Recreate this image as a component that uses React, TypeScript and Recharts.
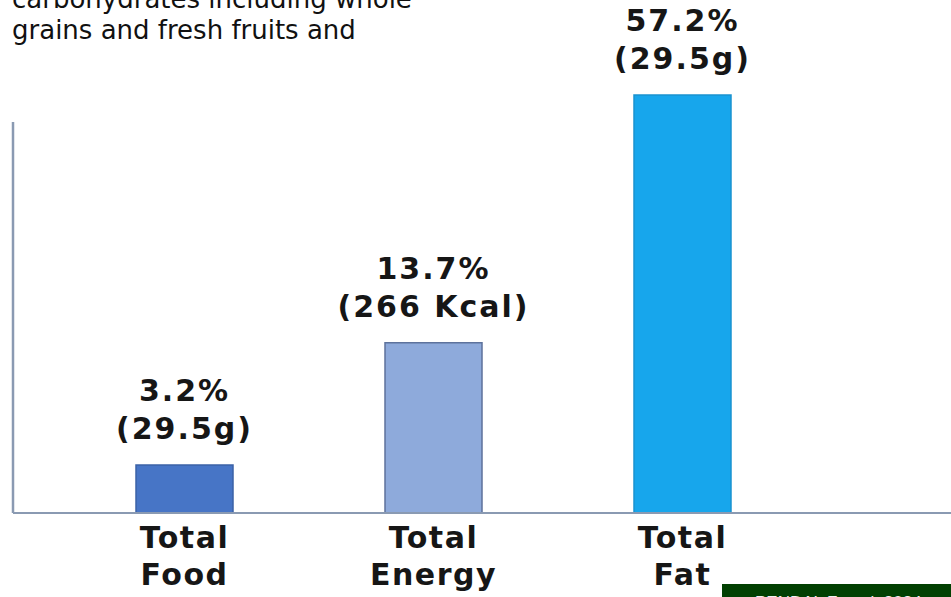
import React from "react";
import { BarChart, Bar, XAxis, YAxis, Cell, LabelList } from "recharts";

const categories = ["Total Food", "Total Energy", "Total Fat"];
// visual bar heights (relative units, tallest bar = 100)
const barHeights = [11.5, 40.7, 100];
const percentLabels = ["3.2%", "13.7%", "57.2%"];
const amountLabels = ["(29.5g)", "(266 Kcal)", "(29.5g)"];
const barColors = ["#4775c6", "#8eaadb", "#17a6ec"];
const barStrokes = ["#3b62a6", "#5d729c", "#1a92cf"];
const introLines = ["carbohydrates including whole", "grains and fresh fruits and"];
const sourceNote = "PENDAL F et al, 2024";

const data = categories.map((name, i) => ({
  name,
  value: barHeights[i],
  pct: percentLabels[i],
  amount: amountLabels[i],
}));

const AXIS_COLOR = "#8a9ab2";
const TEXT_COLOR = "#161616";
const LABEL_FONT = "'DejaVu Sans', Verdana, sans-serif";

const makeLabel = (offset: number) => (props: any) => {
  const { x, y, width, value } = props;
  return (
    <text
      x={Number(x) + Number(width) / 2}
      y={Number(y) - offset}
      textAnchor="middle"
      fontFamily={LABEL_FONT}
      fontWeight="bold"
      fontSize={30}
      letterSpacing={2}
      fill={TEXT_COLOR}
    >
      {value}
    </text>
  );
};

const CategoryTick = (props: any) => {
  const { x, y, payload } = props;
  const words = String(payload.value).split(" ");
  return (
    <g>
      <text
        x={x}
        y={y + 35}
        textAnchor="middle"
        fontFamily={LABEL_FONT}
        fontWeight="bold"
        fontSize={30}
        letterSpacing={1.5}
        fill={TEXT_COLOR}
      >
        {words[0]}
      </text>
      <text
        x={x}
        y={y + 72}
        textAnchor="middle"
        fontFamily={LABEL_FONT}
        fontWeight="bold"
        fontSize={30}
        letterSpacing={1.5}
        fill={TEXT_COLOR}
      >
        {words.slice(1).join(" ")}
      </text>
    </g>
  );
};

export default function App() {
  return (
    <div
      style={{
        position: "absolute",
        left: 0,
        top: 0,
        width: 951,
        height: 597,
        overflow: "hidden",
        background: "#ffffff",
      }}
    >
      <BarChart
        width={951}
        height={597}
        data={data}
        margin={{ top: 95, right: 0, bottom: 0, left: 12 }}
      >
        <XAxis
          dataKey="name"
          height={84}
          interval={0}
          padding={{ left: 47, right: 144 }}
          tickLine={false}
          tickSize={0}
          tickMargin={0}
          axisLine={{ stroke: AXIS_COLOR, strokeWidth: 2 }}
          tick={<CategoryTick />}
        />
        <YAxis
          width={1}
          domain={[0, 100]}
          tick={false}
          tickLine={false}
          axisLine={{ stroke: AXIS_COLOR, strokeWidth: 2.5, strokeDasharray: "0 27 1000" }}
        />
        <Bar dataKey="value" barSize={97} isAnimationActive={false}>
          {data.map((d, i) => (
            <Cell key={d.name} fill={barColors[i]} stroke={barStrokes[i]} strokeWidth={1.5} />
          ))}
          <LabelList dataKey="pct" content={makeLabel(64)} />
          <LabelList dataKey="amount" content={makeLabel(26)} />
        </Bar>
      </BarChart>
      <div
        style={{
          position: "absolute",
          left: 12,
          top: -16,
          fontFamily: "'DejaVu Sans', Tahoma, sans-serif",
          fontSize: 26,
          lineHeight: "31px",
          color: "#111111",
          whiteSpace: "nowrap",
        }}
      >
        {introLines.map((line) => (
          <div key={line}>{line}</div>
        ))}
      </div>
      <div
        style={{
          position: "absolute",
          left: 722,
          top: 584,
          width: 229,
          height: 30,
          background: "#024002",
        }}
      >
        <div
          style={{
            position: "absolute",
            left: 33,
            top: 10,
            fontFamily: "'Liberation Sans', Arial, sans-serif",
            fontSize: 17,
            lineHeight: "17px",
            color: "#f2f2f2",
            whiteSpace: "nowrap",
          }}
        >
          {sourceNote}
        </div>
      </div>
    </div>
  );
}
